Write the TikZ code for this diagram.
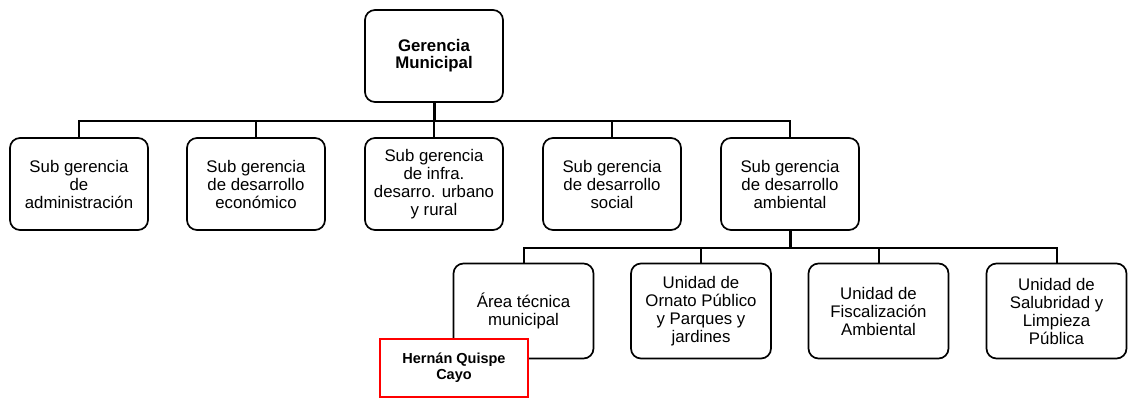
\documentclass[tikz,border=0pt]{standalone}
\usepackage{fontspec}
\setmainfont{Liberation Sans}
\begin{document}
\begin{tikzpicture}[x=1pt,y=-1pt,
  box/.style={draw=black, line width=1.7pt, rounded corners=10pt, fill=white,
    align=center, inner sep=0pt, minimum width=138pt, minimum height=92pt,
    font=\fontsize{16.8}{18}\selectfont},
  topbox/.style={box, font=\fontsize{16.8}{17}\selectfont\bfseries},
  unitbox/.style={box, minimum width=140pt, minimum height=95pt},
  namebox/.style={draw=red, line width=2pt, fill=white, align=center, inner sep=0pt,
    minimum width=148pt, minimum height=58pt, font=\fontsize{14.5}{16.5}\selectfont\bfseries},
  conn/.style={draw=black, line width=2pt},
  thickconn/.style={draw=black, line width=3pt}]
\useasboundingbox (0,0) rectangle (1128,398);

\node[topbox] (top) at (434,56) {Gerencia\\Municipal};

\node[box] (s1) at (79,184) {Sub gerencia\\de\\administración};
\node[box] (s2) at (256,184) {Sub gerencia\\de desarrollo\\económico};
\node[box] (s3) at (434,184) {Sub gerencia\\de infra.\\desarro. urbano\\y rural};
\node[box] (s4) at (612,184) {Sub gerencia\\de desarrollo\\social};
\node[box] (s5) at (790,184) {Sub gerencia\\de desarrollo\\ambiental};

\node[unitbox] (u1) at (523.5,311) {Área técnica\\municipal};
\node[unitbox] (u2) at (701,311) {Unidad de\\Ornato Público\\y Parques y\\jardines};
\node[unitbox] (u3) at (878.5,311) {Unidad de\\Fiscalización\\Ambiental};
\node[unitbox] (u4) at (1056.5,311) {Unidad de\\Salubridad y\\Limpieza\\Pública};

\coordinate (bus1) at (434,121);
\coordinate (bus2) at (790,248);

\draw[thickconn] (top.south) -- (bus1);
\foreach \n in {s1,s2,s3,s4,s5}{
  \draw[conn] (bus1) -| (\n.north);
}
\draw[thickconn] (s5.south) -- (bus2);
\foreach \n in {u1,u2,u3,u4}{
  \draw[conn] (bus2) -| (\n.north);
}

\node[namebox] (name) at (454,367.5) {Hernán Quispe\\Cayo};
\end{tikzpicture}
\end{document}
